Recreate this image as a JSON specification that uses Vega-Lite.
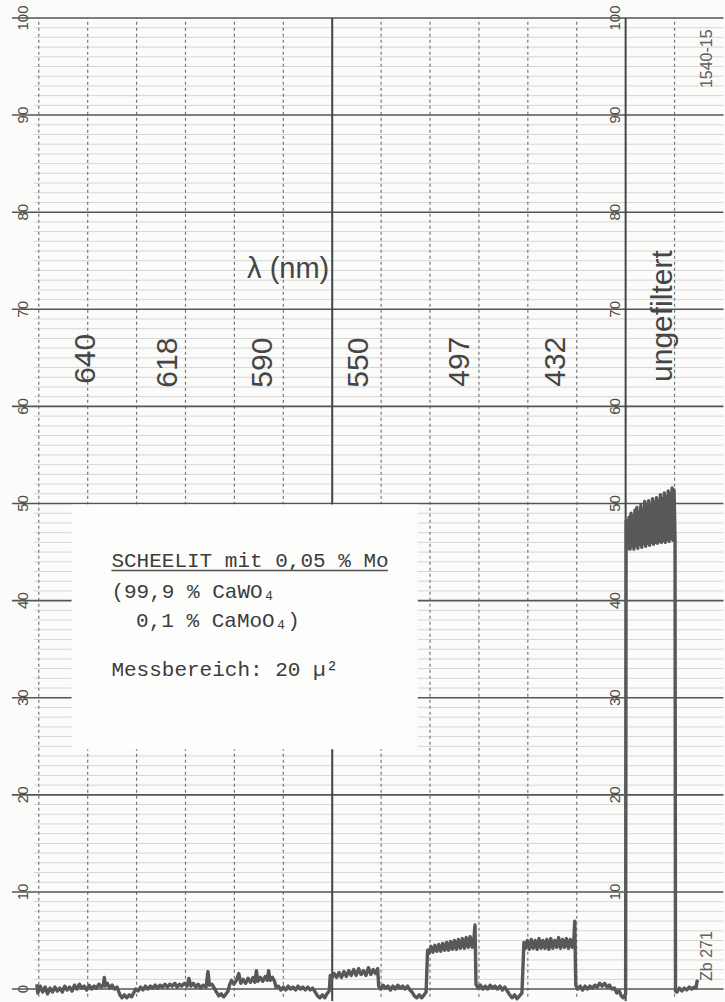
{
  "$schema": "https://vega.github.io/schema/vega-lite/v6.json",
  "width": 725,
  "height": 1002,
  "autosize": {"type": "fit", "contains": "padding"},
  "padding": 0,
  "background": "#fbfbfa",
  "config": {"view": {"stroke": null}},
  "datasets": {
    "minor": [
      {"v":1},{"v":2},{"v":3},{"v":4},{"v":5},{"v":6},{"v":7},{"v":8},{"v":9},
      {"v":11},{"v":12},{"v":13},{"v":14},{"v":15},{"v":16},{"v":17},{"v":18},{"v":19},
      {"v":21},{"v":22},{"v":23},{"v":24},{"v":25},{"v":26},{"v":27},{"v":28},{"v":29},
      {"v":31},{"v":32},{"v":33},{"v":34},{"v":35},{"v":36},{"v":37},{"v":38},{"v":39},
      {"v":41},{"v":42},{"v":43},{"v":44},{"v":45},{"v":46},{"v":47},{"v":48},{"v":49},
      {"v":51},{"v":52},{"v":53},{"v":54},{"v":55},{"v":56},{"v":57},{"v":58},{"v":59},
      {"v":61},{"v":62},{"v":63},{"v":64},{"v":65},{"v":66},{"v":67},{"v":68},{"v":69},
      {"v":71},{"v":72},{"v":73},{"v":74},{"v":75},{"v":76},{"v":77},{"v":78},{"v":79},
      {"v":81},{"v":82},{"v":83},{"v":84},{"v":85},{"v":86},{"v":87},{"v":88},{"v":89},
      {"v":91},{"v":92},{"v":93},{"v":94},{"v":95},{"v":96},{"v":97},{"v":98},{"v":99}
    ],
    "major": [
      {"v":0},{"v":10},{"v":20},{"v":30},{"v":40},{"v":50},{"v":60},{"v":70},{"v":80},{"v":90},{"v":100}
    ],
    "dashedV": [
      {"v":0},{"v":10},{"v":20},{"v":30},{"v":40},{"v":50},{"v":70},{"v":80},{"v":90},{"v":100},{"v":110},{"v":130}
    ],
    "solidV": [{"v":60},{"v":120}],
    "patch": [{"x":6.7,"x2":77.5,"y":24.7,"y2":49.9}],
    "leftLabels": [
      {"v":0},{"v":10},{"v":20},{"v":30},{"v":40},{"v":50},{"v":60},{"v":70},{"v":80},{"v":90},{"v":100}
    ],
    "rightLabels": [
      {"v":10},{"v":20},{"v":30},{"v":40},{"v":50},{"v":60},{"v":70},{"v":80},{"v":90},{"v":100}
    ],
    "wavelengths": [
      {"lab":"640","x":9.6,"y":64.9},
      {"lab":"618","x":26.4,"y":64.5},
      {"lab":"590","x":45.8,"y":64.5},
      {"lab":"550","x":65.5,"y":64.5},
      {"lab":"497","x":86.2,"y":64.6},
      {"lab":"432","x":105.8,"y":64.6},
      {"lab":"ungefiltert","x":127.6,"y":69.3}
    ],
    "box": [
      {"t":"SCHEELIT mit 0,05 % Mo","x":14.85,"y":43.5},
      {"t":"(99,9 % CaWO₄","x":14.85,"y":40.3},
      {"t":"0,1 % CaMoO₄)","x":19.9,"y":37.3},
      {"t":"Messbereich: 20 µ²","x":14.85,"y":32.2}
    ],
    "underline": [{"x":14.85,"x2":71.4,"y":43.1}],
    "codes": [
      {"t":"1540-15","x":136.7,"y":95.8},
      {"t":"Zb 271","x":136.7,"y":3.4}
    ],
    "unit": [{"t":"λ (nm)","x":51.0,"y":74.1}],
    "trace": [
      {"s":-0.4,"v":0.5},{"s":-0.2,"v":-0.4},{"s":0.3,"v":0.3},{"s":0.8,"v":-0.3},{"s":1.3,"v":0.2},{"s":1.8,"v":-0.5},
      {"s":2.3,"v":0.1},{"s":2.8,"v":-0.3},{"s":3.3,"v":0.2},{"s":3.8,"v":-0.2},{"s":4.3,"v":0.1},{"s":4.8,"v":-0.3},
      {"s":5.3,"v":0.3},{"s":5.8,"v":-0.1},{"s":6.3,"v":0.2},{"s":6.8,"v":-0.2},{"s":7.3,"v":0.4},{"s":7.8,"v":0.0},
      {"s":8.3,"v":0.5},{"s":8.8,"v":0.1},{"s":9.3,"v":0.3},{"s":9.8,"v":-0.1},{"s":10.3,"v":0.4},{"s":10.8,"v":0.0},
      {"s":11.3,"v":0.3},{"s":11.8,"v":0.1},{"s":12.3,"v":0.5},{"s":12.8,"v":0.2},{"s":13.2,"v":0.4},{"s":13.4,"v":1.2},
      {"s":13.6,"v":0.3},{"s":14.0,"v":0.6},{"s":14.5,"v":0.1},{"s":15.0,"v":0.4},{"s":15.5,"v":0.0},{"s":16.0,"v":0.2},
      {"s":16.3,"v":-0.2},{"s":16.6,"v":-0.6},{"s":17.0,"v":-0.9},{"s":17.5,"v":-0.6},{"s":18.0,"v":-0.9},{"s":18.5,"v":-0.6},
      {"s":19.0,"v":-0.8},{"s":19.4,"v":-0.4},{"s":19.8,"v":0.0},{"s":20.3,"v":-0.2},{"s":20.8,"v":0.2},{"s":21.3,"v":-0.1},
      {"s":21.8,"v":0.3},{"s":22.3,"v":0.0},{"s":22.8,"v":0.3},{"s":23.3,"v":0.1},{"s":23.8,"v":0.4},{"s":24.3,"v":0.1},
      {"s":24.8,"v":0.4},{"s":25.3,"v":0.2},{"s":25.8,"v":0.5},{"s":26.3,"v":0.2},{"s":26.8,"v":0.5},{"s":27.3,"v":0.3},
      {"s":27.8,"v":0.6},{"s":28.3,"v":0.2},{"s":28.8,"v":0.5},{"s":29.2,"v":0.3},{"s":29.8,"v":0.6},{"s":30.3,"v":0.3},
      {"s":30.7,"v":1.1},{"s":31.1,"v":0.3},{"s":31.6,"v":0.6},{"s":32.1,"v":0.2},{"s":32.6,"v":0.5},{"s":33.1,"v":0.1},
      {"s":33.6,"v":0.4},{"s":34.2,"v":0.2},{"s":34.6,"v":1.8},{"s":34.9,"v":0.4},{"s":35.4,"v":0.5},{"s":35.9,"v":0.1},
      {"s":36.3,"v":-0.3},{"s":36.8,"v":-0.7},{"s":37.3,"v":-0.5},{"s":37.8,"v":-0.8},{"s":38.3,"v":-0.5},{"s":38.7,"v":-0.2},
      {"s":39.0,"v":0.4},{"s":39.4,"v":0.9},{"s":39.9,"v":0.5},{"s":40.4,"v":0.9},{"s":40.9,"v":1.6},{"s":41.3,"v":0.6},
      {"s":41.8,"v":1.0},{"s":42.3,"v":0.6},{"s":42.8,"v":1.1},{"s":43.3,"v":0.7},{"s":43.8,"v":1.2},{"s":44.2,"v":0.7},
      {"s":44.5,"v":1.9},{"s":44.8,"v":0.8},{"s":45.3,"v":1.2},{"s":45.8,"v":0.8},{"s":46.3,"v":1.3},{"s":46.7,"v":0.9},
      {"s":47.0,"v":1.9},{"s":47.3,"v":0.9},{"s":47.8,"v":1.2},{"s":48.2,"v":0.8},{"s":48.5,"v":0.2},{"s":49.0,"v":0.3},
      {"s":49.5,"v":-0.1},{"s":50.0,"v":0.2},{"s":50.5,"v":-0.1},{"s":51.0,"v":0.3},{"s":51.5,"v":0.0},{"s":52.0,"v":0.2},
      {"s":52.5,"v":-0.1},{"s":53.0,"v":0.3},{"s":53.5,"v":0.0},{"s":54.0,"v":0.2},{"s":54.5,"v":-0.1},{"s":55.0,"v":0.2},
      {"s":55.5,"v":-0.1},{"s":56.0,"v":0.1},{"s":56.5,"v":-0.3},{"s":57.0,"v":-0.7},{"s":57.5,"v":-0.9},{"s":58.0,"v":-0.6},
      {"s":58.5,"v":-0.9},{"s":58.9,"v":-0.5},{"s":59.4,"v":-0.2},{"s":59.6,"v":1.4},{"s":59.9,"v":1.1},{"s":60.4,"v":1.6},
      {"s":60.9,"v":1.2},{"s":61.4,"v":1.7},{"s":61.9,"v":1.2},{"s":62.4,"v":1.8},{"s":62.9,"v":1.3},{"s":63.4,"v":1.9},
      {"s":63.9,"v":1.4},{"s":64.4,"v":2.0},{"s":64.9,"v":1.4},{"s":65.4,"v":2.1},{"s":65.9,"v":1.5},{"s":66.4,"v":1.9},
      {"s":66.9,"v":1.4},{"s":67.4,"v":2.2},{"s":67.9,"v":1.5},{"s":68.4,"v":2.0},{"s":68.9,"v":1.6},{"s":69.3,"v":2.1},
      {"s":69.5,"v":0.3},{"s":69.9,"v":0.0},{"s":70.4,"v":0.4},{"s":70.9,"v":0.1},{"s":71.4,"v":0.3},{"s":71.9,"v":-0.1},
      {"s":72.4,"v":0.3},{"s":72.9,"v":0.0},{"s":73.4,"v":0.4},{"s":73.9,"v":0.1},{"s":74.4,"v":0.3},{"s":74.9,"v":0.0},
      {"s":75.4,"v":0.3},{"s":75.9,"v":-0.1},{"s":76.3,"v":-0.3},{"s":76.8,"v":-0.7},{"s":77.3,"v":-0.9},{"s":77.8,"v":-0.6},
      {"s":78.3,"v":-0.9},{"s":78.8,"v":-0.6},{"s":79.2,"v":-0.3},{"s":79.5,"v":4.0},{"s":79.8,"v":3.7},{"s":80.2,"v":4.4},
      {"s":80.6,"v":3.8},{"s":81.0,"v":4.5},{"s":81.4,"v":3.9},{"s":81.8,"v":4.6},{"s":82.2,"v":3.9},{"s":82.6,"v":4.7},
      {"s":83.0,"v":4.0},{"s":83.4,"v":4.8},{"s":83.8,"v":4.0},{"s":84.2,"v":4.9},{"s":84.6,"v":4.1},{"s":85.0,"v":5.0},
      {"s":85.4,"v":4.1},{"s":85.8,"v":5.1},{"s":86.2,"v":4.2},{"s":86.6,"v":5.2},{"s":87.0,"v":4.2},{"s":87.4,"v":5.3},
      {"s":87.8,"v":4.3},{"s":88.2,"v":5.4},{"s":88.6,"v":4.3},{"s":89.0,"v":5.3},{"s":89.2,"v":6.6},{"s":89.4,"v":0.5},
      {"s":89.8,"v":0.1},{"s":90.3,"v":0.4},{"s":90.8,"v":0.0},{"s":91.3,"v":0.3},{"s":91.8,"v":0.0},{"s":92.3,"v":0.4},
      {"s":92.8,"v":0.1},{"s":93.3,"v":0.3},{"s":93.8,"v":0.0},{"s":94.3,"v":0.3},{"s":94.8,"v":-0.1},{"s":95.3,"v":0.2},
      {"s":95.8,"v":-0.2},{"s":96.3,"v":-0.6},{"s":96.8,"v":-0.9},{"s":97.3,"v":-0.6},{"s":97.8,"v":-1.0},{"s":98.3,"v":-0.7},
      {"s":98.8,"v":-0.4},{"s":99.2,"v":4.8},{"s":99.5,"v":4.2},{"s":99.9,"v":5.0},{"s":100.3,"v":4.1},{"s":100.7,"v":5.1},
      {"s":101.1,"v":4.2},{"s":101.5,"v":5.0},{"s":101.9,"v":4.1},{"s":102.3,"v":5.2},{"s":102.7,"v":4.2},{"s":103.1,"v":5.0},
      {"s":103.5,"v":4.2},{"s":103.9,"v":5.1},{"s":104.3,"v":4.1},{"s":104.7,"v":5.2},{"s":105.1,"v":4.2},{"s":105.5,"v":5.0},
      {"s":105.9,"v":4.3},{"s":106.3,"v":5.3},{"s":106.7,"v":4.2},{"s":107.1,"v":5.1},{"s":107.5,"v":4.3},{"s":107.9,"v":5.2},
      {"s":108.3,"v":4.2},{"s":108.7,"v":5.1},{"s":109.1,"v":4.3},{"s":109.4,"v":5.0},{"s":109.6,"v":7.0},{"s":109.8,"v":0.4},
      {"s":110.2,"v":0.0},{"s":110.7,"v":0.3},{"s":111.2,"v":-0.1},{"s":111.7,"v":0.3},{"s":112.2,"v":0.0},{"s":112.7,"v":0.3},
      {"s":113.2,"v":0.1},{"s":113.7,"v":0.4},{"s":114.2,"v":0.2},{"s":114.7,"v":0.6},{"s":115.2,"v":0.3},{"s":115.7,"v":0.6},
      {"s":116.2,"v":0.2},{"s":116.7,"v":0.4},{"s":117.2,"v":0.0},{"s":117.7,"v":0.1},{"s":118.2,"v":-0.4},{"s":118.7,"v":-0.2},
      {"s":119.1,"v":-0.7},{"s":119.5,"v":-0.9},{"s":120.0,"v":-0.5},{"s":120.1,"v":48.2},
      {"s":120.3,"v":48.2},{"s":120.5,"v":45.4},{"s":120.7,"v":48.6},{"s":120.9,"v":45.3},{"s":121.1,"v":49.0},{"s":121.3,"v":45.6},
      {"s":121.5,"v":48.7},{"s":121.7,"v":45.3},{"s":121.9,"v":49.3},{"s":122.1,"v":45.7},{"s":122.3,"v":49.6},{"s":122.5,"v":45.4},
      {"s":122.7,"v":49.1},{"s":122.9,"v":45.8},{"s":123.1,"v":49.8},{"s":123.3,"v":45.5},{"s":123.5,"v":49.4},{"s":123.7,"v":45.9},
      {"s":123.9,"v":50.2},{"s":124.1,"v":45.6},{"s":124.3,"v":49.7},{"s":124.5,"v":45.9},{"s":124.7,"v":50.3},{"s":124.9,"v":45.7},
      {"s":125.1,"v":49.9},{"s":125.3,"v":46.0},{"s":125.5,"v":50.5},{"s":125.7,"v":45.8},{"s":125.9,"v":50.1},{"s":126.1,"v":46.0},
      {"s":126.3,"v":50.6},{"s":126.5,"v":45.9},{"s":126.7,"v":50.3},{"s":126.9,"v":46.1},{"s":127.1,"v":50.9},{"s":127.3,"v":46.0},
      {"s":127.5,"v":50.5},{"s":127.7,"v":46.2},{"s":127.9,"v":51.1},{"s":128.1,"v":46.0},{"s":128.3,"v":50.7},{"s":128.5,"v":46.3},
      {"s":128.7,"v":51.3},{"s":128.9,"v":46.1},{"s":129.1,"v":51.0},{"s":129.3,"v":46.4},{"s":129.5,"v":51.6},{"s":129.7,"v":46.2},
      {"s":129.9,"v":51.4},{"s":130.1,"v":46.4},{"s":130.2,"v":-0.2},
      {"s":130.5,"v":-0.3},{"s":131.0,"v":0.1},{"s":131.5,"v":-0.2},{"s":132.0,"v":0.1},{"s":132.5,"v":-0.1},{"s":133.0,"v":0.2},
      {"s":133.5,"v":0.0},{"s":134.0,"v":0.2},{"s":134.4,"v":0.1},{"s":134.6,"v":0.8},{"s":134.9,"v":0.9}
    ]
  },
  "layer": [
    {
      "data": {"name": "minor"},
      "mark": {"type": "rule", "color": "#d6d6d6", "strokeWidth": 1},
      "encoding": {
        "y": {"field": "v", "type": "quantitative", "scale": {"domain": [-1.23, 101.85], "nice": false, "zero": false}, "axis": null},
        "x": {"datum": -1, "type": "quantitative", "scale": {"domain": [-7.93, 139.5], "nice": false, "zero": false}, "axis": null},
        "x2": {"datum": 140}
      }
    },
    {
      "data": {"name": "dashedV"},
      "mark": {"type": "rule", "color": "#777777", "strokeWidth": 1.2, "strokeDash": [3, 3]},
      "encoding": {
        "x": {"field": "v", "type": "quantitative", "scale": {"domain": [-7.93, 139.5], "nice": false, "zero": false}, "axis": null},
        "y": {"datum": -0.8, "type": "quantitative", "scale": {"domain": [-1.23, 101.85], "nice": false, "zero": false}, "axis": null},
        "y2": {"datum": 100}
      }
    },
    {
      "data": {"name": "major"},
      "mark": {"type": "rule", "color": "#555555", "strokeWidth": 1.6},
      "encoding": {
        "y": {"field": "v", "type": "quantitative", "scale": {"domain": [-1.23, 101.85], "nice": false, "zero": false}, "axis": null},
        "x": {"datum": -5.5, "type": "quantitative", "scale": {"domain": [-7.93, 139.5], "nice": false, "zero": false}, "axis": null},
        "x2": {"datum": 140}
      }
    },
    {
      "data": {"name": "solidV"},
      "mark": {"type": "rule", "color": "#444444", "strokeWidth": 2},
      "encoding": {
        "x": {"field": "v", "type": "quantitative", "scale": {"domain": [-7.93, 139.5], "nice": false, "zero": false}, "axis": null},
        "y": {"datum": -1.23, "type": "quantitative", "scale": {"domain": [-1.23, 101.85], "nice": false, "zero": false}, "axis": null},
        "y2": {"datum": 100}
      }
    },
    {
      "data": {"name": "patch"},
      "mark": {"type": "rect", "color": "#fdfdfc"},
      "encoding": {
        "x": {"field": "x", "type": "quantitative", "scale": {"domain": [-7.93, 139.5], "nice": false, "zero": false}, "axis": null},
        "x2": {"field": "x2"},
        "y": {"field": "y", "type": "quantitative", "scale": {"domain": [-1.23, 101.85], "nice": false, "zero": false}, "axis": null},
        "y2": {"field": "y2"}
      }
    },
    {
      "data": {"name": "leftLabels"},
      "mark": {"type": "text", "angle": 270, "align": "center", "baseline": "middle", "font": "Liberation Sans", "fontSize": 15, "color": "#4a4a4a"},
      "encoding": {
        "y": {"field": "v", "type": "quantitative", "scale": {"domain": [-1.23, 101.85], "nice": false, "zero": false}, "axis": null},
        "x": {"datum": -3.25, "type": "quantitative", "scale": {"domain": [-7.93, 139.5], "nice": false, "zero": false}, "axis": null},
        "text": {"field": "v", "type": "quantitative"}
      }
    },
    {
      "data": {"name": "rightLabels"},
      "mark": {"type": "text", "angle": 270, "align": "center", "baseline": "middle", "font": "Liberation Sans", "fontSize": 15, "color": "#4a4a4a"},
      "encoding": {
        "y": {"field": "v", "type": "quantitative", "scale": {"domain": [-1.23, 101.85], "nice": false, "zero": false}, "axis": null},
        "x": {"datum": 117.8, "type": "quantitative", "scale": {"domain": [-7.93, 139.5], "nice": false, "zero": false}, "axis": null},
        "text": {"field": "v", "type": "quantitative"}
      }
    },
    {
      "data": {"name": "wavelengths"},
      "mark": {"type": "text", "angle": 270, "align": "center", "baseline": "middle", "font": "'Liberation Sans Narrow', 'Liberation Sans', sans-serif", "fontSize": 30, "color": "#454545"},
      "encoding": {
        "x": {"field": "x", "type": "quantitative", "scale": {"domain": [-7.93, 139.5], "nice": false, "zero": false}, "axis": null},
        "y": {"field": "y", "type": "quantitative", "scale": {"domain": [-1.23, 101.85], "nice": false, "zero": false}, "axis": null},
        "text": {"field": "lab"}
      }
    },
    {
      "data": {"name": "unit"},
      "mark": {"type": "text", "align": "center", "baseline": "middle", "font": "Liberation Sans", "fontSize": 29, "color": "#454545"},
      "encoding": {
        "x": {"field": "x", "type": "quantitative", "scale": {"domain": [-7.93, 139.5], "nice": false, "zero": false}, "axis": null},
        "y": {"field": "y", "type": "quantitative", "scale": {"domain": [-1.23, 101.85], "nice": false, "zero": false}, "axis": null},
        "text": {"field": "t"}
      }
    },
    {
      "data": {"name": "codes"},
      "mark": {"type": "text", "angle": 270, "align": "center", "baseline": "middle", "font": "Liberation Sans", "fontSize": 16, "color": "#606060"},
      "encoding": {
        "x": {"field": "x", "type": "quantitative", "scale": {"domain": [-7.93, 139.5], "nice": false, "zero": false}, "axis": null},
        "y": {"field": "y", "type": "quantitative", "scale": {"domain": [-1.23, 101.85], "nice": false, "zero": false}, "axis": null},
        "text": {"field": "t"}
      }
    },
    {
      "data": {"name": "box"},
      "mark": {"type": "text", "align": "left", "baseline": "alphabetic", "font": "'Liberation Mono', 'DejaVu Sans Mono', monospace", "fontSize": 21, "color": "#3c3c3c"},
      "encoding": {
        "x": {"field": "x", "type": "quantitative", "scale": {"domain": [-7.93, 139.5], "nice": false, "zero": false}, "axis": null},
        "y": {"field": "y", "type": "quantitative", "scale": {"domain": [-1.23, 101.85], "nice": false, "zero": false}, "axis": null},
        "text": {"field": "t"}
      }
    },
    {
      "data": {"name": "underline"},
      "mark": {"type": "rule", "color": "#505050", "strokeWidth": 1.6},
      "encoding": {
        "x": {"field": "x", "type": "quantitative", "scale": {"domain": [-7.93, 139.5], "nice": false, "zero": false}, "axis": null},
        "x2": {"field": "x2"},
        "y": {"field": "y", "type": "quantitative", "scale": {"domain": [-1.23, 101.85], "nice": false, "zero": false}, "axis": null}
      }
    },
    {
      "data": {"name": "trace"},
      "mark": {"type": "line", "color": "#585858", "strokeWidth": 3.4, "strokeJoin": "round"},
      "encoding": {
        "x": {"field": "s", "type": "quantitative", "scale": {"domain": [-7.93, 139.5], "nice": false, "zero": false}, "axis": null},
        "y": {"field": "v", "type": "quantitative", "scale": {"domain": [-1.23, 101.85], "nice": false, "zero": false}, "axis": null},
        "order": {"field": "s", "type": "quantitative"}
      }
    }
  ]
}
